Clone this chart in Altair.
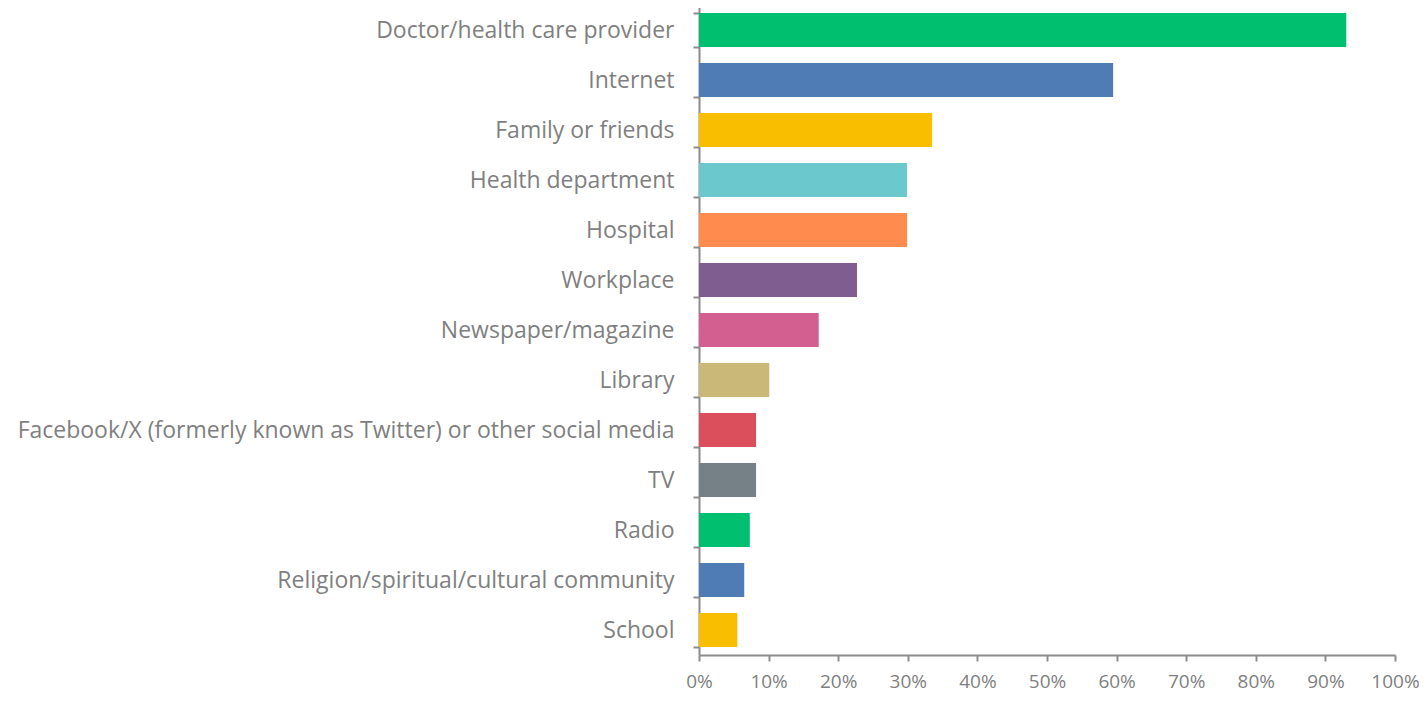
import altair as alt
import pandas as pd

categories = [
    "Doctor/health care provider",
    "Internet",
    "Family or friends",
    "Health department",
    "Hospital",
    "Workplace",
    "Newspaper/magazine",
    "Library",
    "Facebook/X (formerly known as Twitter) or other social media",
    "TV",
    "Radio",
    "Religion/spiritual/cultural community",
    "School",
]
values = [0.930, 0.595, 0.335, 0.299, 0.299, 0.227, 0.172, 0.101, 0.082, 0.082, 0.073, 0.065, 0.055]
colors = [
    "#00BF6F", "#507CB6", "#F9BE00", "#6BC8CD", "#FF8B4F", "#7F5D90",
    "#D25F90", "#C9B877", "#DB4E5B", "#768087", "#00BF6F", "#507CB6", "#F9BE00",
]
x_ticks = [i / 10 for i in range(11)]

df = pd.DataFrame({"category": categories, "value": values})

axis_gray = "#8c8c8c"
text_gray = "#7f7f7f"

chart = (
    alt.Chart(df)
    .mark_bar(size=34)
    .encode(
        y=alt.Y(
            "category:N",
            sort=categories,
            title=None,
            scale=alt.Scale(paddingInner=0.32, paddingOuter=0.16),
            axis=alt.Axis(
                tickBand="extent",
                tickSize=6,
                tickColor=axis_gray,
                tickWidth=2,
                domainColor=axis_gray,
                domainWidth=2,
                labelFont="Open Sans",
                labelFontSize=23,
                labelColor=text_gray,
                labelPadding=19,
                labelLimit=1000,
            ),
        ),
        x=alt.X(
            "value:Q",
            title=None,
            scale=alt.Scale(domain=[0, 1], nice=False),
            axis=alt.Axis(
                values=x_ticks,
                format=".0%",
                grid=False,
                tickSize=6,
                tickColor=axis_gray,
                tickWidth=2,
                domainColor=axis_gray,
                domainWidth=2,
                labelFont="Open Sans",
                labelFontSize=19,
                labelColor=text_gray,
                labelPadding=11,
                labelFlush=False,
            ),
        ),
        color=alt.Color(
            "category:N",
            scale=alt.Scale(domain=categories, range=colors),
            legend=None,
        ),
    )
    .properties(
        width=696,
        height=650,
        autosize=alt.AutoSizeParams(type="none"),
        padding={"left": 691, "top": -3, "right": 24, "bottom": 40},
    )
    .configure_view(stroke=None)
)

chart.save("out.html", embed_options={"renderer": "svg", "actions": False})
